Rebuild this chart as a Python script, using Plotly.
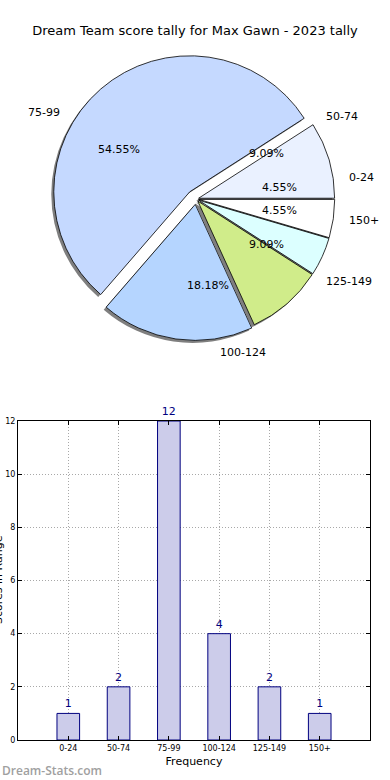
import math
import plotly.graph_objects as go

# ---- data ----
categories = ["0-24", "50-74", "75-99", "100-124", "125-149", "150+"]
counts = [1, 2, 12, 4, 2, 1]
slice_colors = ["#ffffff", "#eaf1ff", "#c5d9ff", "#b5d5ff", "#d0ec8a", "#dcffff"]
pulls = [0.02, 0.02, 0.07, 0.04, 0.02, 0.02]
y_ticks = [0, 2, 4, 6, 8, 10, 12]

W, H = 390, 780
FONT = "DejaVu Sans"

# pie geometry (pixels)
cx, cy, R = 196, 199, 136
half = R * (1 + max(pulls))
dom_x = [(cx - half) / W, (cx + half) / W]
dom_y = [1 - (cy + half) / H, 1 - (cy - half) / H]
sh = 2.5  # shadow offset px
dom_x_sh = [(cx - half - sh) / W, (cx + half - sh) / W]
dom_y_sh = [1 - (cy + half + sh) / H, 1 - (cy - half + sh) / H]

fig = go.Figure()

# shadow
fig.add_trace(go.Pie(
    labels=categories, values=counts, sort=False, direction="counterclockwise",
    rotation=90, pull=pulls, domain=dict(x=dom_x_sh, y=dom_y_sh),
    marker=dict(colors=["rgba(0,0,0,0.5)"] * len(counts), line=dict(width=0)),
    textinfo="none", hoverinfo="skip", showlegend=False,
))
# main pie
fig.add_trace(go.Pie(
    labels=categories, values=counts, sort=False, direction="counterclockwise",
    rotation=90, pull=pulls, domain=dict(x=dom_x, y=dom_y),
    marker=dict(colors=slice_colors, line=dict(color="black", width=0.8)),
    textinfo="none", showlegend=False,
))

# pie text labels computed from data
total = sum(counts)
annotations = []
cum = 0
for lab, v, p in zip(categories, counts, pulls):
    frac = v / total
    th = 2 * math.pi * (cum + frac / 2)
    cum += frac
    c, s = math.cos(th), math.sin(th)
    ox, oy = cx + p * R * c, cy - p * R * s
    lx, ly = ox + 1.1 * R * c, oy - 1.1 * R * s
    px_, py_ = ox + 0.6 * R * c, oy - 0.6 * R * s
    annotations.append(dict(
        x=lx / W, y=1 - ly / H, xref="paper", yref="paper", text=lab,
        showarrow=False, xanchor="left" if c > 0 else "right", yanchor="middle",
        font=dict(family=FONT, size=11, color="black")))
    annotations.append(dict(
        x=px_ / W, y=1 - py_ / H, xref="paper", yref="paper",
        text=f"{frac * 100:.2f}%", showarrow=False, xanchor="center", yanchor="middle",
        font=dict(family=FONT, size=11, color="black")))

# bar chart
fig.add_trace(go.Bar(
    x=categories, y=counts, width=0.45, xaxis="x", yaxis="y",
    marker=dict(color="#ccccea", line=dict(color="#00007f", width=1)),
    text=[str(v) for v in counts], textposition="outside",
    textfont=dict(family=FONT, size=11, color="#00007f"),
    cliponaxis=False, showlegend=False,
))

annotations.append(dict(
    x=-2 / W, y=1 - 580 / H, xref="paper", yref="paper", text="Scores in Range",
    textangle=-90, showarrow=False, xanchor="center", yanchor="middle",
    font=dict(family=FONT, size=11, color="black")))
annotations.append(dict(
    x=0, y=1 - 770 / H, xref="paper", yref="paper", text="Dream-Stats.com",
    showarrow=False, xanchor="left", yanchor="middle",
    font=dict(family="Open Sans", size=12, color="#a0a0a0", weight=600)))

axis_common = dict(
    showline=True, linecolor="black", linewidth=1, mirror="ticks",
    ticks="inside", ticklen=4, tickcolor="black", automargin=False,
    showgrid=True, gridcolor="#a8a8a8", griddash="1px,2px", gridwidth=1,
    tickfont=dict(family=FONT, size=8, color="black"), zeroline=False,
)

fig.update_layout(
    width=W, height=H, margin=dict(l=0, r=0, t=0, b=0, autoexpand=False),
    paper_bgcolor="white", plot_bgcolor="white",
    title=dict(text="Dream Team score tally for Max Gawn - 2023 tally",
               x=0.5, xanchor="center", y=1 - 30 / H, yanchor="middle",
               font=dict(family=FONT, size=13, color="black")),
    xaxis=dict(domain=[18 / W, 370 / W], range=[-1, 6], type="category",
               title=dict(text="Frequency", standoff=5,
                          font=dict(family=FONT, size=11, color="black")),
               anchor="y", **axis_common),
    yaxis=dict(domain=[40 / H, 359 / H], range=[0, 12], tickvals=y_ticks,
               anchor="x", **axis_common),
    annotations=annotations,
    showlegend=False,
)

fig.write_html(
    "out.html",
    config={"displayModeBar": False},
    post_script=("document.body.style.margin='0';"
                 "document.documentElement.style.overflow='hidden';"
                 "document.body.style.overflow='hidden';"),
)
